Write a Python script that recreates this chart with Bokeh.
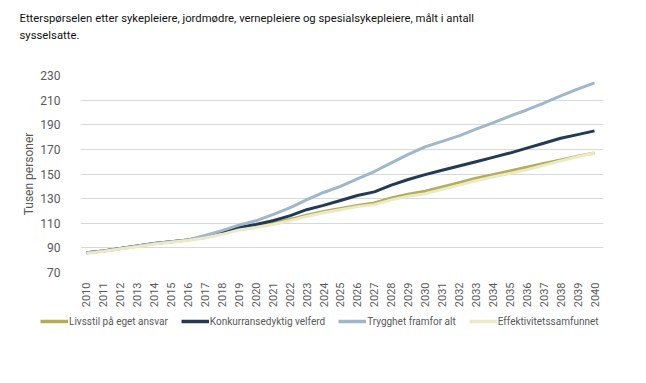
import math
from bokeh.plotting import figure
from bokeh.models import FixedTicker, Label, Legend, LegendItem, ColumnDataSource
from bokeh.layouts import column
from bokeh.embed import file_html
from bokeh.resources import INLINE

years = list(range(2010, 2041))
livsstil = [86, 87.5, 89.5, 91.5, 93.5, 95, 96.5, 98.5, 102, 105, 107.5, 110, 113, 116.5, 119.5,
            122, 124.5, 126.5, 130.5, 133.5, 136, 139.5, 143, 146.5, 149.5, 152.5, 155.5, 158.5, 161.5, 164.5, 167]
konkurranse = [86, 87.5, 89.5, 91.5, 93.5, 95, 96.5, 99, 103, 106.5, 109, 112, 116, 121, 124.5,
               128.5, 132.5, 135.5, 141, 145.5, 149.5, 153, 156.5, 160, 163.5, 167, 171, 175, 179, 182, 185]
trygghet = [86, 87.5, 89.5, 91.5, 93.5, 95, 96.5, 100, 104, 108.5, 112, 117, 122.5, 129, 135,
            140, 146, 152, 159, 166, 172, 176.5, 181, 186.5, 191.5, 197, 202, 207.5, 213.5, 219, 224]
effektivitet = [85.5, 87, 89, 91, 93, 94.5, 96, 98, 101, 104.5, 106.5, 109, 112, 115.5, 118.5,
                121, 123.5, 125, 129, 132, 134, 137.5, 141, 144.5, 147.5, 150.5, 153.5, 157, 160.5, 164, 167]
series_names = ["Livsstil på eget ansvar", "Konkurransedyktig velferd", "Trygghet framfor alt", "Effektivitetssamfunnet"]
colors = ["#b3ae55", "#243a52", "#9fb7cb", "#ece9c8"]
y_ticks = [70, 90, 110, 130, 150, 170, 190, 210, 230]
title_lines = ["Etterspørselen etter sykepleiere, jordmødre, vernepleiere og spesialsykepleiere, målt i antall",
               "sysselsatte."]
y_label = "Tusen personer"

FONT = "Roboto"
W = 638

# --- title strip ---
pt = figure(width=W, height=45, output_backend="svg", toolbar_location=None,
            x_axis_type=None, y_axis_type=None, x_range=(0, 1), y_range=(0, 1),
            min_border_left=0, min_border_right=0, min_border_top=0, min_border_bottom=0,
            frame_align=False)
pt.outline_line_color = None
for i, line in enumerate(title_lines):
    pt.add_layout(Label(x=19, y=27 - i * 17, x_units="screen", y_units="screen", text=line,
                        text_baseline="middle",
                        text_font=FONT, text_font_size="11.3px", text_color="#111111"))

# --- main chart ---
p = figure(width=W, height=265, output_backend="svg", toolbar_location=None,
           x_range=(2009.65, 2040.53), y_range=(70, 230),
           min_border_left=80, min_border_right=35, min_border_top=30, min_border_bottom=31,
           frame_align=False)
p.outline_line_color = None

src = ColumnDataSource(dict(x=years, a=livsstil, b=konkurranse, c=trygghet, d=effektivitet))
for key, col in zip(["a", "b", "c", "d"], colors):
    p.line("x", key, source=src, line_color=col, line_width=3)

p.xgrid.grid_line_color = None
p.ygrid.grid_line_color = "#d9d9d9"
p.ygrid.grid_line_width = 1

p.yaxis.ticker = FixedTicker(ticks=y_ticks)
p.xaxis.ticker = FixedTicker(ticks=years)
p.xaxis.major_label_orientation = math.pi / 2
for ax in (p.xaxis[0], p.yaxis[0]):
    ax.axis_line_color = None
    ax.major_tick_line_color = None
    ax.minor_tick_line_color = None
    ax.major_label_text_color = "#595959"
    ax.major_label_text_font = FONT
p.xaxis.major_label_text_font_size = "11px"
p.yaxis.major_label_text_font_size = "12px"
p.xaxis.major_label_standoff = 4
p.yaxis.major_label_standoff = 14
p.yaxis.axis_label = y_label
p.yaxis.axis_label_text_font = FONT
p.yaxis.axis_label_text_font_size = "12px"
p.yaxis.axis_label_text_font_style = "normal"
p.yaxis.axis_label_text_color = "#595959"
p.yaxis.axis_label_standoff = 1

# --- legend strip ---
pl = figure(width=W, height=30, output_backend="svg", toolbar_location=None,
            x_axis_type=None, y_axis_type=None, x_range=(0, 1), y_range=(0, 1),
            min_border_left=0, min_border_right=0, min_border_top=0, min_border_bottom=0,
            frame_align=False)
pl.outline_line_color = None
dummies = [pl.line(x=[-10, -9], y=[-10, -10], line_color=c, line_width=3.5) for c in colors]
legend = Legend(items=[LegendItem(label=n, renderers=[r]) for n, r in zip(series_names, dummies)],
                orientation="horizontal", location=(40, 13), spacing=13,
                label_text_font=FONT, label_text_font_size="10px", label_text_color="#595959",
                glyph_width=28, glyph_height=12, label_standoff=1, border_line_color=None,
                background_fill_alpha=0, padding=0, margin=0)
pl.add_layout(legend, "center")

layout = column(pt, p, pl, spacing=0)
open("out.html", "w").write(file_html(layout, INLINE))
